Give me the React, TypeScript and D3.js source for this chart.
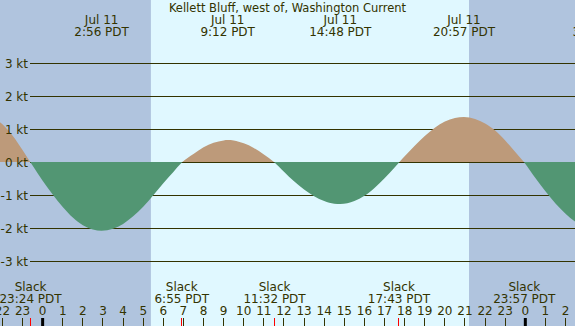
import React from 'react';
import * as d3 from 'd3';

// Kellett Bluff, west of, Washington Current — Jul 11
const title = 'Kellett Bluff, west of, Washington Current';

// hours since midnight Jul 11 (negative = Jul 10)
const sampleHours = [
  -2.5, -2, -1.5, -1, -0.6, -0.5, 0, 0.5, 1, 1.5, 2, 2.5, 2.93, 3.5, 4, 4.5, 5, 5.5, 6, 6.5,
  6.92, 7.5, 8, 8.5, 9, 9.2, 9.5, 10, 10.5, 11, 11.53, 12, 12.5, 13, 13.5, 14, 14.5, 14.8,
  15.5, 16, 16.5, 17, 17.5, 17.72, 18, 18.5, 19, 19.5, 20, 20.5, 20.95, 21.5, 22, 22.5, 23,
  23.5, 23.95, 24.5, 25, 25.5, 26, 26.5, 27, 27.5,
];
const currentKt = [
  1.38, 1.16, 0.82, 0.38, 0, -0.09, -0.55, -0.97, -1.35, -1.67, -1.9, -2.03, -2.07, -2.01, -1.86, -1.63, -1.34, -0.99, -0.63, -0.29,
  0, 0.26, 0.46, 0.6, 0.67, 0.68, 0.67, 0.58, 0.44, 0.24, 0, -0.28, -0.57, -0.82, -1.02, -1.17, -1.25, -1.26,
  -1.17, -1.01, -0.77, -0.48, -0.15, 0, 0.19, 0.51, 0.8, 1.05, 1.24, 1.35, 1.38, 1.32, 1.18, 0.97, 0.67,
  0.32, 0, -0.47, -0.87, -1.24, -1.55, -1.8, -1.96, -2.04,
];

// max flood / ebb events shown on top
const maxDates = ['Jul 11', 'Jul 11', 'Jul 11', 'Jul 11', 'Jul 12'];
const maxTimes = ['2:56', '9:12', '14:48', '20:57', '3:42'];
const maxDayOffset = [0, 0, 0, 0, 1];

// slack water events shown at the bottom
const slackTimes = ['23:24', '6:55', '11:32', '17:43', '23:57'];
const slackDayOffset = [-1, 0, 0, 0, 0];

const sunrise = '5:23';
const sunset = '21:12';

const ktTicks = [3, 2, 1, 0, -1, -2, -3];
const hourTicks = d3.range(-2, 27);

const toHours = (s: string, day = 0) => {
  const [h, m] = s.split(':').map(Number);
  return day * 24 + h + m / 60;
};

const W = 575;
const H = 326;
const textColor = '#333300';
const font = "'DejaVu Sans', sans-serif";

export default function App() {
  const x = d3.scaleLinear().domain([-2.12, 26.47]).range([0, W]);
  const y = d3.scaleLinear().domain([-3, 3]).range([261.5, 63.5]);
  const zeroPx = Math.floor(y(0));

  const pts = sampleHours.map((t, i) => [t, currentKt[i]] as [number, number]);
  const area = d3
    .area<[number, number]>()
    .x((d) => x(d[0]))
    .y0(zeroPx)
    .y1((d) => y(d[1]))
    .curve(d3.curveMonotoneX);
  const areaPath = area(pts) || '';

  const rise = x(toHours(sunrise));
  const set = x(toHours(sunset));

  return (
    <svg
      width={W}
      height={H}
      style={{ position: 'absolute', left: 0, top: 0, display: 'block' }}
      fontFamily={font}
      fontSize={12}
    >
      <defs>
        <clipPath id="flood">
          <rect x={0} y={0} width={W} height={zeroPx} />
        </clipPath>
        <clipPath id="ebb">
          <rect x={0} y={zeroPx} width={W} height={H - zeroPx} />
        </clipPath>
      </defs>

      {/* night / day background */}
      <rect x={0} y={0} width={W} height={H} fill="#b0c4de" />
      <rect x={rise} y={0} width={set - rise} height={H} fill="#e0f8ff" />

      {/* grid lines */}
      {ktTicks.map((k) => (
        <line key={k} x1={30} x2={W} y1={y(k)} y2={y(k)} stroke={textColor} strokeWidth={1} />
      ))}

      {/* current */}
      <path d={areaPath} fill="#bd9a7a" clipPath="url(#flood)" />
      <path d={areaPath} fill="#529673" clipPath="url(#ebb)" />

      {/* kt labels */}
      {ktTicks.map((k) => (
        <text key={k} x={28} y={y(k) + 4.5} textAnchor="end" fill={textColor}>
          {`${k} kt`}
        </text>
      ))}

      <text x={W / 2} y={12} textAnchor="middle" fill={textColor} fontSize={11.5}>
        {title}
      </text>

      {maxTimes.map((t, i) => {
        const cx = x(toHours(t, maxDayOffset[i]));
        return (
          <g key={t} fill={textColor} textAnchor="middle">
            <text x={cx} y={24}>{maxDates[i]}</text>
            <text x={cx} y={36}>{`${t} PDT`}</text>
          </g>
        );
      })}

      {slackTimes.map((t, i) => {
        const cx = x(toHours(t, slackDayOffset[i]));
        return (
          <g key={t} fill={textColor} textAnchor="middle">
            <text x={cx} y={291}>Slack</text>
            <text x={cx} y={303}>{`${t} PDT`}</text>
          </g>
        );
      })}

      {/* hour ticks */}
      {hourTicks.map((h) => {
        const px = Math.floor(x(h)) + 0.5;
        const label = ((h % 24) + 24) % 24;
        return (
          <g key={h}>
            <text x={x(h)} y={315} textAnchor="middle" fill={textColor}>
              {label}
            </text>
            <line x1={px} x2={px} y1={318} y2={H} stroke={textColor} strokeWidth={1} />
          </g>
        );
      })}

      {/* slack markers */}
      {slackTimes.map((t, i) => {
        const px = Math.floor(x(toHours(t, slackDayOffset[i]))) + 0.5;
        return <line key={t} x1={px} x2={px} y1={318} y2={H} stroke="#ff0000" strokeWidth={1} />;
      })}

      {/* midnight markers */}
      {[0, 24].map((h) => (
        <line key={h} x1={x(h)} x2={x(h)} y1={318} y2={H} stroke="#000" strokeWidth={3} />
      ))}
    </svg>
  );
}
